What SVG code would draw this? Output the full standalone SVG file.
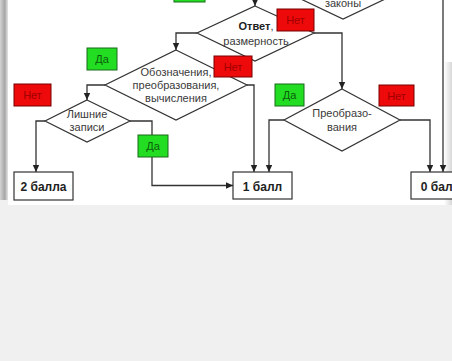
<svg xmlns="http://www.w3.org/2000/svg" width="452" height="361" viewBox="0 0 452 361">
<defs>
<linearGradient id="lstrip" x1="0" y1="0" x2="1" y2="0">
<stop offset="0" stop-color="#d4d4d4"/>
<stop offset="0.6" stop-color="#a6a6a6"/>
<stop offset="1" stop-color="#e6e6e6"/>
</linearGradient>
<linearGradient id="rstrip" x1="0" y1="0" x2="1" y2="0">
<stop offset="0" stop-color="#ffffff"/>
<stop offset="1" stop-color="#d8d8d8"/>
</linearGradient>
<marker id="arr" markerWidth="8" markerHeight="8" refX="7" refY="4" orient="auto" markerUnits="userSpaceOnUse">
<path d="M0,0.8 L7,4 L0,7.2 z" fill="#222"/>
</marker>
<style>
.ln{fill:none;stroke:#333;stroke-width:1.3;}
.dm{fill:#fff;stroke:#333;stroke-width:1.2;}
.bx{fill:#fff;stroke:#333;stroke-width:1.2;}
.no{fill:#ee0a0a;stroke:#7a0000;stroke-width:1;}
.yes{fill:#22dd22;stroke:#1a6a1a;stroke-width:1;}
.t{font-family:"Liberation Sans",Arial,sans-serif;font-size:11px;fill:#3a3a3a;text-anchor:middle;}
.tb{font-family:"Liberation Sans",Arial,sans-serif;font-size:12px;font-weight:bold;fill:#222;text-anchor:middle;}
.tn{font-family:"Liberation Sans",Arial,sans-serif;font-size:11px;fill:#a00000;text-anchor:middle;}
.ty{font-family:"Liberation Sans",Arial,sans-serif;font-size:11px;fill:#0b5e0b;text-anchor:middle;}
</style>
</defs>
<rect width="452" height="361" fill="#f0f0f0"/>
<rect x="8" y="0" width="444" height="205" fill="#fff"/>
<rect x="0" y="0" width="8" height="200" fill="url(#lstrip)"/>
<rect x="444" y="62" width="8" height="143" fill="url(#rstrip)"/>

<g id="connectors">
<path class="ln" d="M255,0 V6" marker-end="url(#arr)"/>
<path class="ln" d="M443,0 V172" marker-end="url(#arr)"/>
<path class="ln" d="M197,33 H176 V50" marker-end="url(#arr)"/>
<path class="ln" d="M314,33 H342 V89" marker-end="url(#arr)"/>
<path class="ln" d="M105,85 H87 V100" marker-end="url(#arr)"/>
<path class="ln" d="M247,85 H254 V172" marker-end="url(#arr)"/>
<path class="ln" d="M45,121 H36 V172" marker-end="url(#arr)"/>
<path class="ln" d="M130,121 H152 V185.5 H233" marker-end="url(#arr)"/>
<path class="ln" d="M284,120 H269 V172" marker-end="url(#arr)"/>
<path class="ln" d="M400,120 H430 V172" marker-end="url(#arr)"/>
</g>

<g id="d-zakony">
<polygon class="dm" points="343,-35 400,-8 343,19 286,-8"/>
<text class="t" x="343" y="7">законы</text>
</g>
<g id="d-otvet">
<polygon class="dm" points="255,6 314,33 255,61 197,33"/>
<text class="t" x="256" y="30"><tspan font-weight="bold" fill="#222">Ответ</tspan>,</text>
<text class="t" x="256" y="45">размерность</text>
</g>
<g id="d-oboznach">
<polygon class="dm" points="176,50 247,85 176,120 105,85"/>
<text class="t" x="176" y="76">Обозначения,</text>
<text class="t" x="176" y="89">преобразования,</text>
<text class="t" x="176" y="102">вычисления</text>
</g>
<g id="d-lishnie">
<polygon class="dm" points="87,100 130,121 87,142 45,121"/>
<text class="t" x="87" y="118">Лишние</text>
<text class="t" x="87" y="131">записи</text>
</g>
<g id="d-preobr">
<polygon class="dm" points="342,89 400,120 342,151 284,120"/>
<text class="t" x="342" y="117">Преобразо-</text>
<text class="t" x="342" y="131">вания</text>
</g>

<g id="b-2">
<rect class="bx" x="14" y="172" width="59" height="28"/>
<text class="tb" x="43.5" y="191">2 балла</text>
</g>
<g id="b-1">
<rect class="bx" x="233" y="172" width="59" height="27"/>
<text class="tb" x="262.5" y="191">1 балл</text>
</g>
<g id="b-0">
<rect class="bx" x="411" y="172" width="59" height="27"/>
<text class="tb" x="440.5" y="191">0 балл</text>
</g>

<g id="l-yes-top">
<rect class="yes" x="174" y="-15" width="31" height="17"/>
</g>
<g id="l-no-otvet">
<rect class="no" x="277" y="9" width="37" height="22"/>
<text class="tn" x="295.5" y="24">Нет</text>
</g>
<g id="l-no-mid">
<rect class="no" x="214" y="56" width="38" height="21"/>
<text class="tn" x="233" y="70.5">Нет</text>
</g>
<g id="l-yes-left">
<rect class="yes" x="87" y="48" width="30" height="22"/>
<text class="ty" x="102" y="63">Да</text>
</g>
<g id="l-no-left">
<rect class="no" x="14" y="84" width="37" height="22"/>
<text class="tn" x="32.5" y="99">Нет</text>
</g>
<g id="l-yes-preobr">
<rect class="yes" x="275" y="84" width="29" height="22"/>
<text class="ty" x="289.5" y="99">Да</text>
</g>
<g id="l-no-right">
<rect class="no" x="379" y="85" width="35" height="21"/>
<text class="tn" x="396.5" y="99.5">Нет</text>
</g>
<g id="l-yes-low">
<rect class="yes" x="138" y="135" width="30" height="22"/>
<text class="ty" x="153" y="150">Да</text>
</g>
</svg>
